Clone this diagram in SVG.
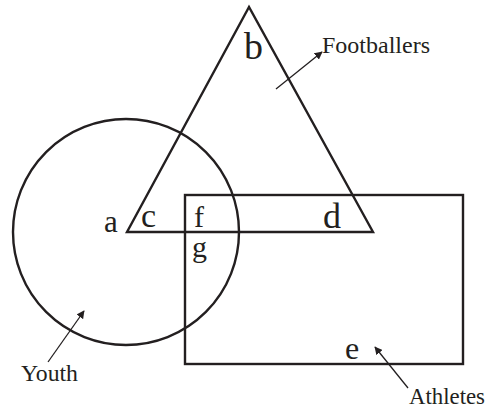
<svg xmlns="http://www.w3.org/2000/svg" width="487" height="410" viewBox="0 0 487 410">
<style>
.shape{fill:none;stroke:#231f20;stroke-width:2.4;stroke-linejoin:miter}
.arrow{fill:none;stroke:#231f20;stroke-width:1.3}
.t{font-family:"Liberation Serif","Times New Roman",serif;fill:#231f20}
.lbl{font-size:23px}
</style>
<defs>
<marker id="ah" viewBox="0 0 10 10" refX="9" refY="5" markerWidth="8" markerHeight="8" markerUnits="userSpaceOnUse" orient="auto">
<path d="M0,0 L10,5 L0,10 Z" fill="#231f20"/>
</marker>
</defs>
<rect width="487" height="410" fill="#ffffff"/>
<g id="youth">
<circle class="shape" cx="126" cy="232" r="113"/>
</g>
<g id="footballers">
<polygon class="shape" points="249,7 127,232 373,232"/>
</g>
<g id="athletes">
<rect class="shape" x="185" y="195" width="278" height="169"/>
</g>
<g id="regions">
<text class="t" x="244" y="59" font-size="38">b</text>
<text class="t" x="104" y="232" font-size="31">a</text>
<text class="t" x="141" y="227" font-size="34">c</text>
<text class="t" x="194" y="227" font-size="30">f</text>
<text class="t" x="192" y="257" font-size="30">g</text>
<text class="t" x="323" y="228" font-size="36">d</text>
<text class="t" x="345" y="359" font-size="32">e</text>
</g>
<g id="labels">
<text class="t lbl" x="322" y="53" textLength="108" lengthAdjust="spacingAndGlyphs">Footballers</text>
<text class="t lbl" x="21" y="381" textLength="57" lengthAdjust="spacingAndGlyphs">Youth</text>
<text class="t lbl" x="409" y="404" textLength="76" lengthAdjust="spacingAndGlyphs">Athletes</text>
</g>
<g id="connectors">
<line class="arrow" x1="276" y1="89" x2="322" y2="52" marker-end="url(#ah)"/>
<line class="arrow" x1="48" y1="362" x2="84" y2="311" marker-end="url(#ah)"/>
<line class="arrow" x1="408" y1="388" x2="375" y2="347" marker-end="url(#ah)"/>
</g>
</svg>
